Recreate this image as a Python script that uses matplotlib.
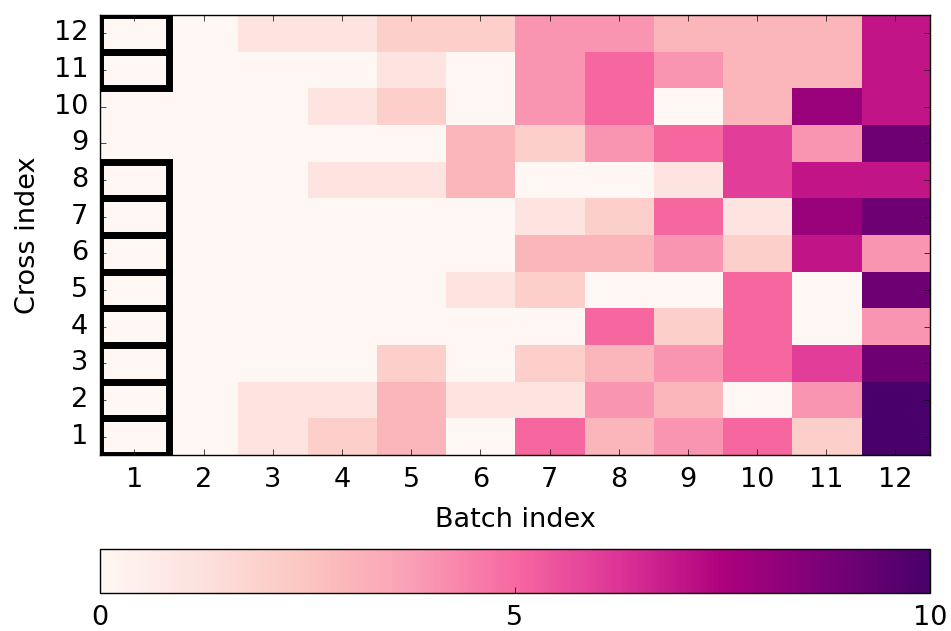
import matplotlib
matplotlib.use('Agg')
import matplotlib.pyplot as plt
import numpy as np
from matplotlib.patches import Rectangle

plt.style.use('classic')

# values per cross index (row 1 .. 12), columns = batch index 1 .. 12
row1 = [0, 0, 1, 2, 3, 0, 5, 3, 4, 5, 2, 10]
row2 = [0, 0, 1, 1, 3, 1, 1, 4, 3, 0, 4, 10]
row3 = [0, 0, 0, 0, 2, 0, 2, 3, 4, 5, 6, 9]
row4 = [0, 0, 0, 0, 0, 0, 0, 5, 2, 5, 0, 4]
row5 = [0, 0, 0, 0, 0, 1, 2, 0, 0, 5, 0, 9]
row6 = [0, 0, 0, 0, 0, 0, 3, 3, 4, 2, 7, 4]
row7 = [0, 0, 0, 0, 0, 0, 1, 2, 5, 1, 8, 9]
row8 = [0, 0, 0, 1, 1, 3, 0, 0, 1, 6, 7, 7]
row9 = [0, 0, 0, 0, 0, 3, 2, 4, 5, 6, 4, 9]
row10 = [0, 0, 0, 1, 2, 0, 4, 5, 0, 3, 8, 7]
row11 = [0, 0, 0, 0, 1, 0, 4, 5, 4, 3, 3, 7]
row12 = [0, 0, 1, 1, 2, 2, 4, 4, 3, 3, 3, 7]

batches = list(range(1, 13))
crosses = list(range(1, 13))
# cross indices boxed in batch 1
boxed = [1, 2, 3, 4, 5, 6, 7, 8, 11, 12]

data = np.array([row1, row2, row3, row4, row5, row6,
                 row7, row8, row9, row10, row11, row12])

fig = plt.figure(figsize=(9.51, 6.31), dpi=100, facecolor='white')
ax = fig.add_axes([0.105, 0.279, 0.873, 0.697])
cax = fig.add_axes([0.105, 0.060, 0.873, 0.070])

im = ax.imshow(data, cmap='RdPu', vmin=0, vmax=10, origin='lower',
               interpolation='nearest', aspect='auto',
               extent=[0.5, 12.5, 0.5, 12.5])

for c in boxed:
    ax.add_patch(Rectangle((0.5, c - 0.5), 1, 1, fill=False,
                           edgecolor='black', linewidth=5))

ax.set_xticks(batches)
ax.set_yticks(crosses)
ax.set_xlim(0.5, 12.5)
ax.set_ylim(0.5, 12.5)
ax.tick_params(labelsize=19.5, pad=8.5)
ax.set_xlabel('Batch index', fontsize=19.5, labelpad=10)
ax.set_ylabel('Cross index', fontsize=19.5, labelpad=9)

cb = fig.colorbar(im, cax=cax, orientation='horizontal', ticks=[0, 5, 10])
cb.ax.tick_params(labelsize=19.5, pad=8.5)

fig.savefig('out.png', dpi=100, facecolor='white')
